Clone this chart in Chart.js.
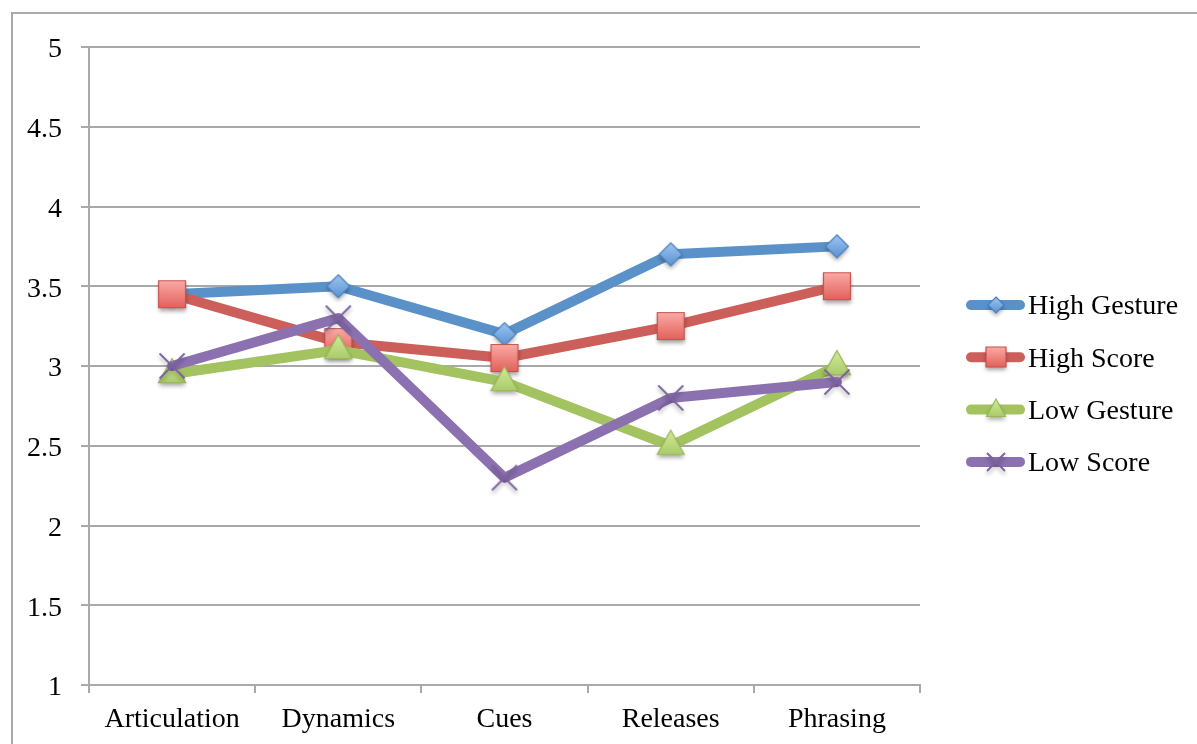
<!DOCTYPE html>
<html>
<head>
<meta charset="utf-8">
<script src="https://cdn.jsdelivr.net/npm/chart.js@4/dist/chart.umd.min.js"></script>
<style>
  html, body { margin: 0; padding: 0; background: #fff; overflow: hidden; }
  #wrap { position: relative; width: 1197px; height: 744px; }
  #frame { position: absolute; left: 11px; top: 12px; width: 1400px; height: 1000px;
           border: 2px solid #a9a9a9; pointer-events: none; }
  canvas { position: absolute; left: 0; top: 0; }
</style>
</head>
<body>
<div id="wrap">
  <canvas id="c" width="1197" height="744"></canvas>
  <div id="frame"></div>
</div>
<script>
// Ratings per conducting category
const categories  = ['Articulation', 'Dynamics', 'Cues', 'Releases', 'Phrasing'];
const seriesNames = ['High Gesture', 'High Score', 'Low Gesture', 'Low Score'];
const highGesture = [3.45, 3.5, 3.2, 3.7, 3.75];
const highScore   = [3.45, 3.15, 3.05, 3.25, 3.5];
const lowGesture  = [2.95, 3.1, 2.9, 2.5, 3.0];
const lowScore    = [3.0, 3.3, 2.3, 2.8, 2.9];
const yTickValues = [1, 1.5, 2, 2.5, 3, 3.5, 4, 4.5, 5];

const FONT = "'Liberation Serif', 'Times New Roman', serif";

// Marker sprites: gradient-filled shapes with a soft drop shadow
function makeSprite(kind, r, light, dark, edge) {
  const pad = 8;
  const size = Math.ceil(2 * (r + pad) / 2) * 2;
  const cv = document.createElement('canvas');
  cv.width = size; cv.height = size;
  const g = cv.getContext('2d');
  const c = size / 2;
  g.shadowColor = 'rgba(0,0,0,0.35)';
  g.shadowBlur = 4;
  g.shadowOffsetY = 3;
  g.beginPath();
  if (kind === 'diamond') {
    g.moveTo(c, c - r); g.lineTo(c + r, c); g.lineTo(c, c + r); g.lineTo(c - r, c); g.closePath();
  } else if (kind === 'square') {
    g.rect(c - r, c - r, 2 * r, 2 * r);
  } else if (kind === 'triangle') {
    g.moveTo(c, c - r); g.lineTo(c + r * 0.87, c + r * 0.5 + 1); g.lineTo(c - r * 0.87, c + r * 0.5 + 1); g.closePath();
  }
  if (kind === 'cross') {
    g.strokeStyle = edge; g.lineWidth = 1.8;
    g.moveTo(c - r, c - r); g.lineTo(c + r, c + r);
    g.moveTo(c + r, c - r); g.lineTo(c - r, c + r);
    g.stroke();
    return cv;
  }
  const grad = g.createLinearGradient(0, c - r, 0, c + r);
  grad.addColorStop(0, light); grad.addColorStop(1, dark);
  g.fillStyle = grad;
  g.fill();
  g.shadowColor = 'transparent';
  g.strokeStyle = edge; g.lineWidth = 1.2;
  g.stroke();
  return cv;
}

const styles = [
  { line: '#5a91c9', kind: 'diamond',  light: '#9cc6f2', dark: '#5a92d0', edge: '#4a7fbd', r: 11.5, lr: 8 },
  { line: '#cd5f5a', kind: 'square',   light: '#fbaaa5', dark: '#e2615b', edge: '#c4514d', r: 13.5, lr: 10 },
  { line: '#a3c260', kind: 'triangle', light: '#d2ea9c', dark: '#a0c35a', edge: '#97b855', r: 15.5, lr: 11 },
  { line: '#8b71b0', kind: 'cross',    light: '#8b71b0', dark: '#8b71b0', edge: '#7c61a0', r: 12.5, lr: 9 }
];
const seriesValues = [highGesture, highScore, lowGesture, lowScore];

const datasets = seriesNames.map((name, i) => {
  const s = styles[i];
  return {
    label: name,
    data: seriesValues[i],
    borderColor: s.line,
    backgroundColor: s.line,
    borderWidth: 10,
    borderJoinStyle: 'round',
    borderCapStyle: 'round',
    tension: 0,
    pointStyle: makeSprite(s.kind, s.r, s.light, s.dark, s.edge),
    legendSprite: makeSprite(s.kind, s.lr, s.light, s.dark, s.edge),
    pointRadius: s.r,
    order: seriesNames.length - i
  };
});

// Legend on the right: thick line sample with the marker in its middle
const sideLegend = {
  id: 'sideLegend',
  afterDraw(chart, args, opts) {
    const g = chart.ctx;
    const area = chart.chartArea;
    const x0 = area.right + opts.lineStart;
    const x1 = area.right + opts.lineEnd;
    chart.data.datasets.forEach((ds, i) => {
      const y = opts.top + i * opts.spacing;
      g.save();
      g.strokeStyle = ds.borderColor;
      g.lineWidth = 10;
      g.lineCap = 'round';
      g.beginPath(); g.moveTo(x0 + 5, y); g.lineTo(x1 - 5, y); g.stroke();
      const sp = ds.legendSprite;
      g.drawImage(sp, Math.round((x0 + x1) / 2 - sp.width / 2), Math.round(y - sp.height / 2));
      g.fillStyle = '#000';
      g.font = opts.font;
      g.textBaseline = 'middle';
      g.textAlign = 'left';
      g.fillText(ds.label, x1 + 3, y + 2);
      g.restore();
    });
  }
};

new Chart(document.getElementById('c'), {
  type: 'line',
  data: { labels: categories, datasets },
  plugins: [sideLegend],
  options: {
    responsive: false,
    animation: false,
    events: [],
    layout: { padding: { top: 47, right: 277, left: 0, bottom: 0 } },
    plugins: {
      legend: { display: false },
      tooltip: { enabled: false },
      sideLegend: { top: 305, spacing: 52.3, lineStart: 46, lineEnd: 105, font: '28px ' + FONT }
    },
    scales: {
      x: {
        offset: true,
        grid: { display: true, drawOnChartArea: false, drawTicks: true, tickLength: 8, color: '#a9a9a9', lineWidth: 2, offset: true },
        border: { display: true, color: '#a9a9a9', width: 2 },
        ticks: { color: '#000', font: { family: FONT, size: 28 }, padding: 10, maxRotation: 0, autoSkip: false },
        afterFit(scale) { scale.height = 59; }
      },
      y: {
        min: 1, max: 5,
        afterBuildTicks(scale) { scale.ticks = yTickValues.map(v => ({ value: v })); },
        grid: { color: '#a9a9a9', lineWidth: 2, tickLength: 8, drawTicks: true },
        border: { display: true, color: '#a9a9a9', width: 2 },
        ticks: { color: '#000', font: { family: FONT, size: 28 }, padding: 19, labelOffset: 3, callback: v => String(v) },
        afterFit(scale) { scale.width = 89; }
      }
    }
  }
});
</script>
</body>
</html>
